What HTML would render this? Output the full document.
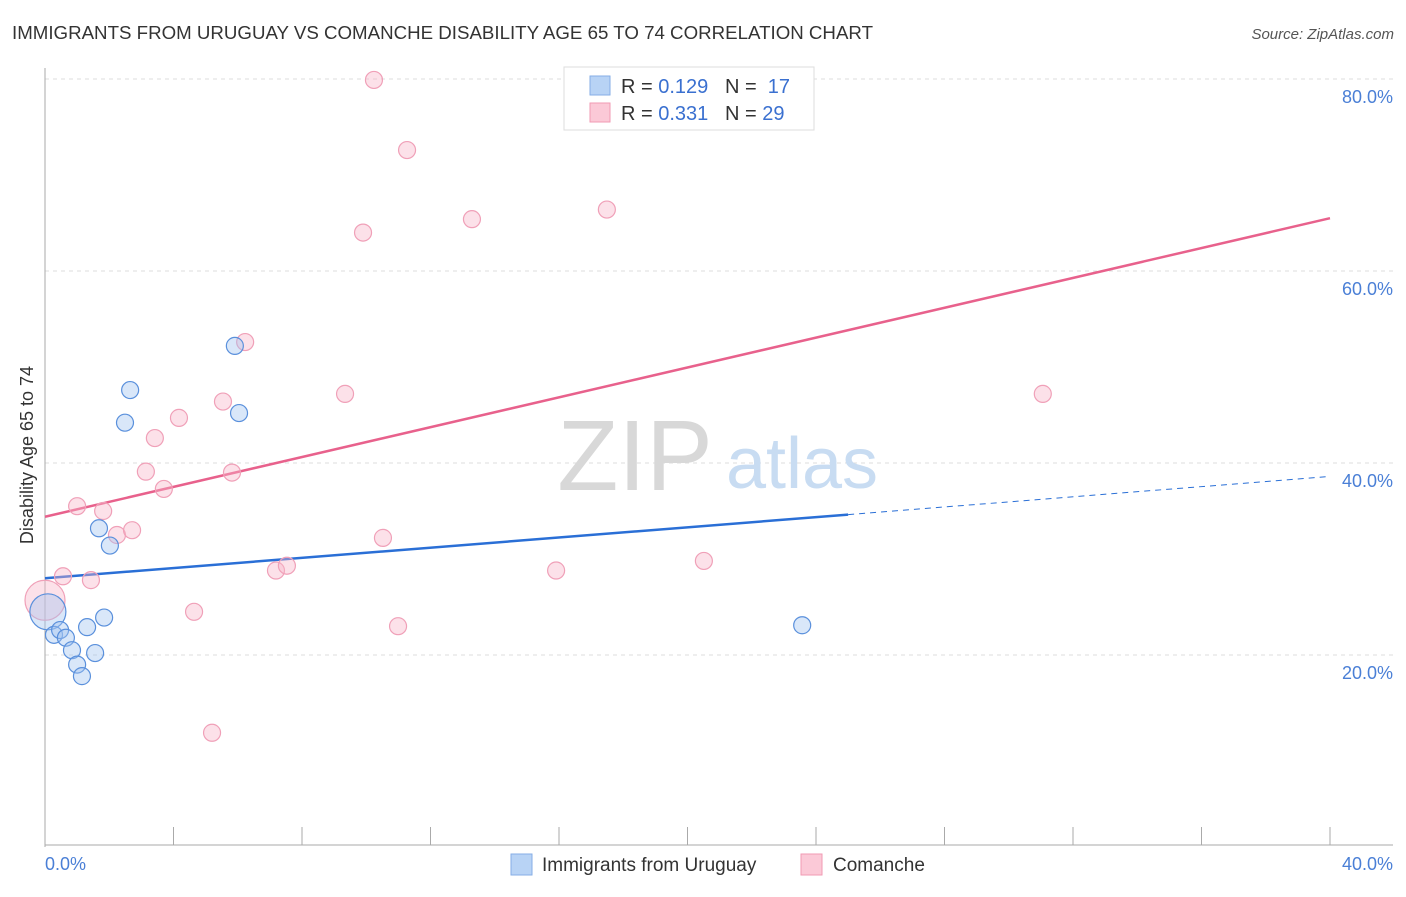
<!DOCTYPE html>
<html><head><meta charset="utf-8"><style>
body{margin:0;background:#fff;font-family:"Liberation Sans",sans-serif;}
svg text{font-family:"Liberation Sans",sans-serif;}
</style></head><body>
<svg width="1406" height="892" viewBox="0 0 1406 892">
<text x="12" y="39" font-size="18" fill="#333" textLength="861" lengthAdjust="spacingAndGlyphs">IMMIGRANTS FROM URUGUAY VS COMANCHE DISABILITY AGE 65 TO 74 CORRELATION CHART</text>
<text x="1394" y="39" font-size="15" fill="#555" font-style="italic" text-anchor="end">Source: ZipAtlas.com</text>
<g id="grid"></g>
<g>
<text x="635" y="490" font-size="100" fill="#d8d8d8" font-family="Liberation Serif" text-anchor="middle">ZIP</text>
<text x="802" y="488" font-size="72" fill="#c8dcf2" text-anchor="middle">atlas</text>
</g>
<line x1="45" y1="68" x2="45" y2="847" stroke="#aaa"/>
<line x1="45" y1="845" x2="1393" y2="845" stroke="#aaa"/>
<text x="33" y="455" font-size="18" fill="#333" text-anchor="middle" transform="rotate(-90 33 455)">Disability Age 65 to 74</text>
<text x="45" y="870" font-size="18" fill="#4a7fd6">0.0%</text>
<text x="1393" y="870" font-size="18" fill="#4a7fd6" text-anchor="end">40.0%</text>
<g id="lines"></g>
<g id="points"></g>
<g>
<rect x="564" y="67" width="250" height="63" fill="#fff" stroke="#ddd"/>
<rect x="590" y="76" width="20" height="19" fill="#b8d3f5" stroke="#86aee6"/>
<rect x="590" y="103" width="20" height="19" fill="#fbc9d7" stroke="#f09ab3"/>
<text x="621" y="93" font-size="20" fill="#333">R = <tspan fill="#3a70d0">0.129</tspan>&#160;&#160;&#160;N = &#160;<tspan fill="#3a70d0">17</tspan></text>
<text x="621" y="120" font-size="20" fill="#333">R = <tspan fill="#3a70d0">0.331</tspan>&#160;&#160;&#160;N = <tspan fill="#3a70d0">29</tspan></text>
</g>
<g>
<rect x="511" y="854" width="21" height="21" fill="#b8d3f5" stroke="#86aee6"/>
<text x="542" y="871" font-size="19" fill="#333">Immigrants from Uruguay</text>
</g>
<g>
<rect x="801" y="854" width="21" height="21" fill="#fbc9d7" stroke="#f09ab3"/>
<text x="833" y="871" font-size="19" fill="#333">Comanche</text>
</g>
</svg>
<script>
const yTicks=[20,40,60,80];
const xTicks=[0,4,8,12,16,20,24,28,32,36,40];
const blueX=[0.09,0.28,0.47,0.65,0.84,1.0,1.15,1.31,1.56,1.84,1.68,2.02,2.49,2.65,5.91,6.04,23.57];
const blueY=[24.5,22.1,22.6,21.8,20.5,19.0,17.8,22.9,20.2,23.9,33.2,31.4,44.2,47.6,52.2,45.2,23.1];
const pinkX=[0,0.56,1.0,1.43,1.81,2.24,2.71,3.14,3.42,3.70,4.17,4.64,5.20,5.54,5.82,6.23,7.19,7.53,9.34,9.90,10.24,10.52,10.99,11.27,13.29,15.91,17.49,20.51,31.06];
const pinkY=[25.7,28.2,35.5,27.8,35.0,32.5,33.0,39.1,42.6,37.3,44.7,24.5,11.9,46.4,39.0,52.6,28.8,29.3,47.2,64.0,79.9,32.2,23.0,72.6,65.4,28.8,66.4,29.8,47.2];
const blueTrend=[28.0,38.6];
const blueSolidEnd=25.0;
const pinkTrend=[34.4,65.5];
const NS="http://www.w3.org/2000/svg";
const xs=v=>45+v/40*1285;
const ys=v=>847-v*9.6;
function mk(tag,attrs,parent){const e=document.createElementNS(NS,tag);for(const k in attrs)e.setAttribute(k,attrs[k]);parent.appendChild(e);return e;}
const grid=document.getElementById('grid');
yTicks.forEach(t=>{
 const l=mk('line',{x1:45,x2:1393,y1:ys(t),y2:ys(t),stroke:'#ddd','stroke-dasharray':'4,4'},grid);
 
 
 const tx=mk('text',{x:1393,y:ys(t)+24,'font-size':18,fill:'#4a7fd6','text-anchor':'end'},grid);
 tx.textContent=t.toFixed(1)+'%';
 
 
});
xTicks.forEach(t=>{
 const l=mk('line',{x1:xs(t),x2:xs(t),y1:827,y2:845,stroke:'#aaa'},grid);
 
 
});
const lines=document.getElementById('lines');
const tv=(a,x)=>a[0]+(a[1]-a[0])*x/40;
let b1=mk('line',{x1:xs(0),y1:ys(tv(blueTrend,0)),x2:xs(blueSolidEnd),y2:ys(tv(blueTrend,blueSolidEnd)),stroke:'#2a6fd6','stroke-width':2.5},lines);


let b2=mk('line',{x1:xs(blueSolidEnd),y1:ys(tv(blueTrend,blueSolidEnd)),x2:xs(40),y2:ys(tv(blueTrend,40)),stroke:'#2a6fd6','stroke-width':1,'stroke-dasharray':'6,5'},lines);


let p1=mk('line',{x1:xs(0),y1:ys(tv(pinkTrend,0)),x2:xs(40),y2:ys(tv(pinkTrend,40)),stroke:'#e8618c','stroke-width':2.5},lines);


const pts=document.getElementById('points');
pinkX.forEach((x,i)=>{
 const c=mk('circle',{cx:xs(x),cy:ys(pinkY[i]),r:i===0?20:8.5,fill:'rgba(248,180,200,0.4)',stroke:'#f0a0b8','stroke-width':1.2},pts);
 
 
});
blueX.forEach((x,i)=>{
 const c=mk('circle',{cx:xs(x),cy:ys(blueY[i]),r:i===0?18:8.5,fill:'rgba(160,196,240,0.4)',stroke:'#5a90dc','stroke-width':1.2},pts);
 
 
});
</script>
</body></html>
